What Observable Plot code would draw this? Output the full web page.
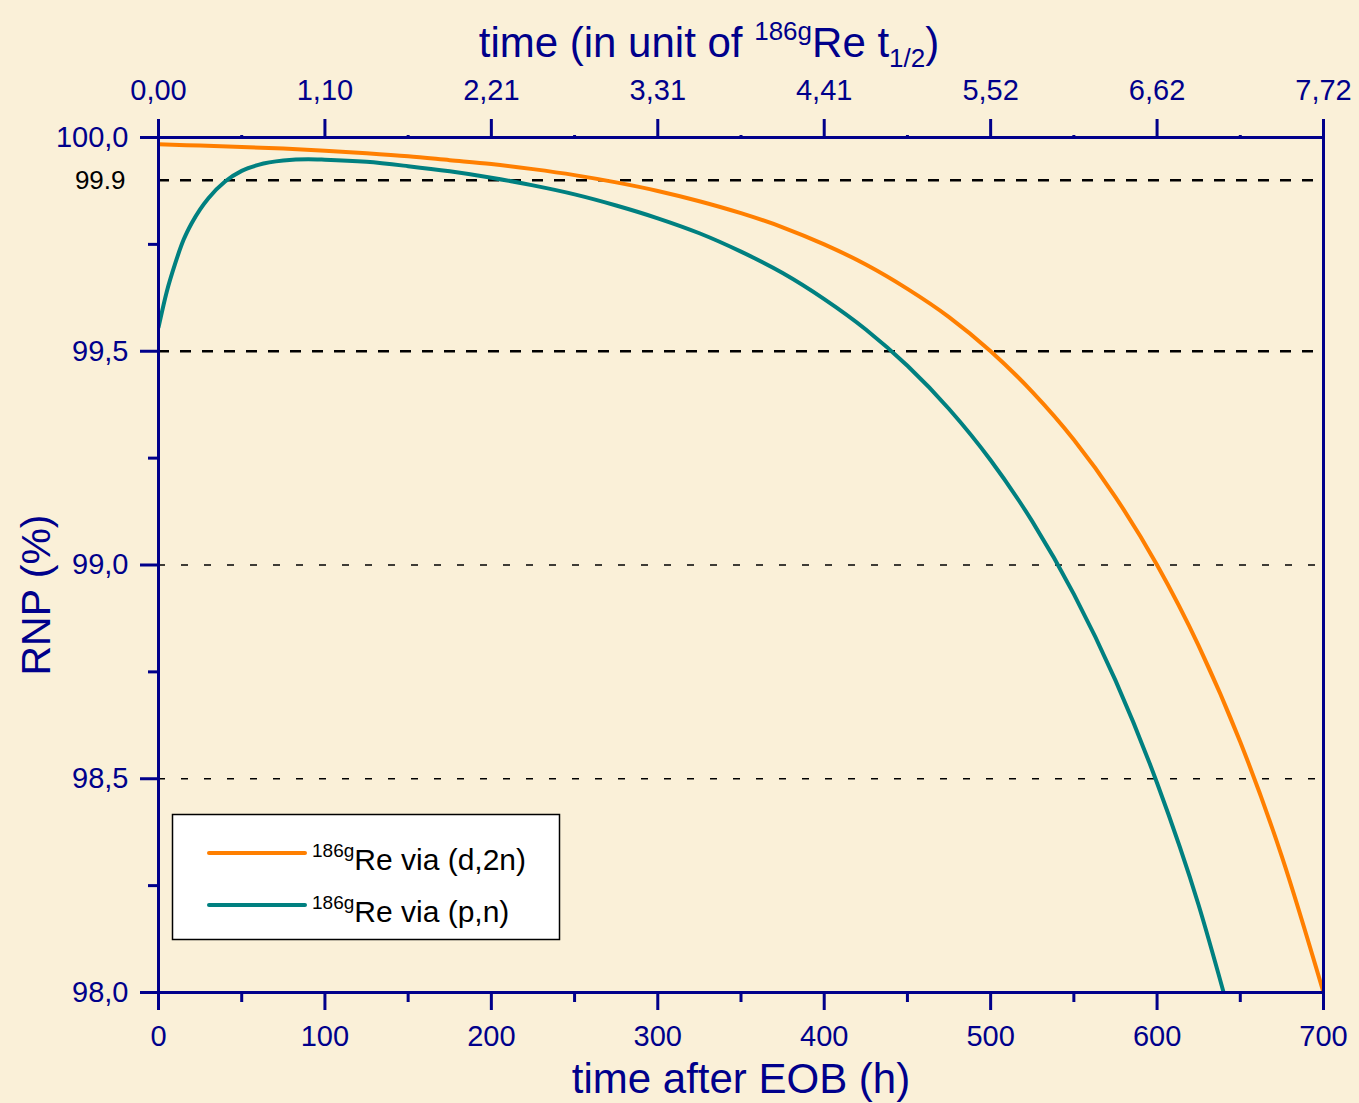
<!DOCTYPE html>
<html>
<head>
<meta charset="utf-8">
<script src="https://cdn.jsdelivr.net/npm/d3@7"></script>
<script src="https://cdn.jsdelivr.net/npm/@observablehq/plot@0.6"></script>
<style>
  html, body { margin: 0; padding: 0; background: #faf0d8; }
  #chart svg { display: block; }
</style>
</head>
<body>
<div id="chart"></div>
<script>
// ---- data ----
const timeD2n = [0,25,50,75,100,125,150,175,200,225,250,275,300,325,350,375,400,425,450,475,500,525,550,575,600,625,650,675,700];
const rnpD2n  = [99.984,99.981,99.978,99.974,99.969,99.963,99.956,99.947,99.938,99.926,99.912,99.895,99.875,99.851,99.823,99.790,99.750,99.703,99.646,99.580,99.500,99.405,99.293,99.159,99.000,98.811,98.586,98.318,98.000];

const timePn = [0,5,10,15,20,25,30,40,50,60,75,90,100,125,150,175,200,225,250,275,300,325,350,375,400,425,450,475,500,525,550,575,600,625,640];
const rnpPn  = [99.556,99.640,99.705,99.760,99.800,99.832,99.858,99.897,99.922,99.936,99.946,99.949,99.948,99.943,99.933,99.921,99.906,99.888,99.867,99.841,99.811,99.776,99.733,99.683,99.622,99.551,99.466,99.365,99.245,99.102,98.932,98.730,98.490,98.204,98.000];

const xMajorTicks = [0,100,200,300,400,500,600,700];
const xMinorTicks = [50,150,250,350,450,550,650];
const topTickLabels = ["0,00","1,10","2,21","3,31","4,41","5,52","6,62","7,72"];
const yMajorTicks = [98,98.5,99,99.5,100];
const yMinorTicks = [98.25,98.75,99.25,99.75];
const heavyDashLevels = [99.9, 99.5];
const lightDashLevels = [99.0, 98.5];
const extraYLabel = [{y: 99.9, label: "99.9"}];

const seriesNames = ["(d,2n)", "(p,n)"];
const seriesColors = ["#ff7f00", "#008080"];

const rows = [
  ...timeD2n.map((t, i) => ({t, v: rnpD2n[i], s: seriesNames[0]})),
  ...timePn.map((t, i) => ({t, v: rnpPn[i], s: seriesNames[1]}))
];

const navy = "#00008b";
const font = "'Liberation Sans', Arial, sans-serif";
const W = 1359, H = 1103;

const fmtComma = d => d3.format(".1f")(d).replace(".", ",");

const chart = Plot.plot({
  width: W,
  height: H,
  marginTop: 137,
  marginLeft: 158,
  marginRight: 36,
  marginBottom: 111,
  style: {background: "transparent", fontFamily: font, overflow: "visible"},
  x: {domain: [0, 700]},
  y: {domain: [98, 100]},
  color: {domain: seriesNames, range: seriesColors},
  marks: [
    Plot.ruleY(heavyDashLevels, {stroke: "#000", strokeWidth: 2.5, strokeDasharray: "11,11"}),
    Plot.ruleY(lightDashLevels, {stroke: "#000", strokeWidth: 1.4, strokeDasharray: "7,16"}),
    Plot.line(rows, {x: "t", y: "v", z: "s", stroke: "s", strokeWidth: 4, curve: "monotone-x", clip: true}),
    // bottom axis
    Plot.axisX({anchor: "bottom", ticks: xMajorTicks, tickSize: 18, tickPadding: 15, tickFormat: d => String(d),
      color: navy, strokeWidth: 3, fontSize: 29, label: null}),
    Plot.axisX({anchor: "bottom", ticks: xMinorTicks, tickSize: 10, tickFormat: null, text: null,
      color: navy, strokeWidth: 3, label: null}),
    // top axis
    Plot.axisX({anchor: "top", ticks: xMajorTicks, tickSize: 19, tickPadding: 19,
      tickFormat: d => topTickLabels[xMajorTicks.indexOf(d)],
      color: navy, strokeWidth: 3, fontSize: 29, label: null}),
    Plot.axisX({anchor: "top", ticks: xMinorTicks, tickSize: 3, text: null,
      color: navy, strokeWidth: 3, label: null}),
    // left axis
    Plot.axisY({anchor: "left", ticks: yMajorTicks, tickSize: 18, tickPadding: 12, tickFormat: fmtComma,
      color: navy, strokeWidth: 3, fontSize: 29, label: null}),
    Plot.axisY({anchor: "left", ticks: yMinorTicks, tickSize: 10, text: null,
      color: navy, strokeWidth: 3, label: null}),
    Plot.text(extraYLabel, {x: 0, y: "y", text: "label", dx: -33, textAnchor: "end", fill: "#000", fontSize: 26}),
    Plot.frame({stroke: navy, strokeWidth: 3})
  ]
});

document.getElementById("chart").appendChild(chart);

// ---- titles and legend (text with super/subscripts) ----
const svg = d3.select(chart);
const g = svg.append("g").attr("font-family", font).attr("fill", navy);

// top title
const tt = g.append("text").attr("x", 709).attr("y", 57).attr("text-anchor", "middle").attr("font-size", 42);
tt.append("tspan").text("time (in unit of ");
tt.append("tspan").attr("font-size", 26).attr("dy", -17).text("186g");
tt.append("tspan").attr("dy", 17).text("Re t");
tt.append("tspan").attr("font-size", 26).attr("dy", 10).text("1/2");
tt.append("tspan").attr("dy", -10).text(")");

// bottom title
g.append("text").attr("x", 741).attr("y", 1093).attr("text-anchor", "middle").attr("font-size", 42)
  .text("time after EOB (h)");

// left title
g.append("text").attr("transform", "translate(50,595) rotate(-90)").attr("text-anchor", "middle")
  .attr("font-size", 41).text("RNP (%)");

// legend
const lg = svg.append("g").attr("font-family", font).attr("text-anchor", "start");
lg.append("rect").attr("x", 172.5).attr("y", 814.5).attr("width", 387).attr("height", 125)
  .attr("fill", "#ffffff").attr("stroke", "#000").attr("stroke-width", 1.5);
const legendRows = [{y: 853, color: seriesColors[0], label: "Re via (d,2n)"},
                    {y: 905, color: seriesColors[1], label: "Re via (p,n)"}];
legendRows.forEach(r => {
  lg.append("line").attr("x1", 209).attr("x2", 305).attr("y1", r.y).attr("y2", r.y)
    .attr("stroke", r.color).attr("stroke-width", 4).attr("stroke-linecap", "round");
  const t = lg.append("text").attr("x", 312).attr("y", r.y + 17).attr("text-anchor", "start")
    .attr("fill", "#000").attr("font-size", 30);
  t.append("tspan").attr("font-size", 19).attr("dy", -13).text("186g");
  t.append("tspan").attr("dy", 13).text(r.label);
});
</script>
</body>
</html>
